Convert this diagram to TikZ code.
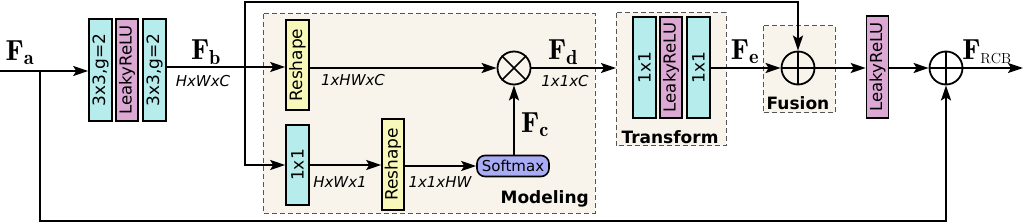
\documentclass[tikz,border=0pt]{standalone}
\usepackage{fontspec}
\setsansfont{DejaVu Sans}
\usetikzlibrary{arrows.meta}
\definecolor{cyanf}{RGB}{182,236,236}
\definecolor{pinkf}{RGB}{220,168,212}
\definecolor{yelf}{RGB}{248,248,186}
\definecolor{bluef}{RGB}{168,172,244}
\definecolor{beigef}{RGB}{248,244,236}
\definecolor{dashc}{RGB}{85,85,85}
\begin{document}
\begin{tikzpicture}[x=1pt,y=-1pt,
  blk/.style={draw, line width=1.6pt, inner sep=0pt, font=\sffamily\fontsize{17}{17}\selectfont},
  cbox/.style={blk, fill=cyanf, minimum width=23pt, minimum height=102pt},
  pbox/.style={blk, fill=pinkf, minimum width=22pt, minimum height=102pt, font=\sffamily\fontsize{16.5}{17}\selectfont},
  ybox/.style={blk, fill=yelf, minimum width=23pt, minimum height=90pt},
  ln/.style={line width=2pt},
  arr/.style={line width=2pt, -{Stealth[length=15pt,width=10pt,inset=3pt]}},
  dbox/.style={draw=dashc, dash pattern=on 5pt off 3pt, fill=beigef, line width=1pt},
  flab/.style={inner sep=0pt, font=\fontsize{29}{32}\selectfont},
  ilab/.style={inner sep=0pt, font=\sffamily\itshape\fontsize{15}{16}\selectfont},
  blab/.style={inner sep=0pt, font=\sffamily\bfseries\fontsize{17}{18}\selectfont},
  opc/.style={draw, circle, line width=1.8pt, minimum size=33pt, inner sep=0pt}
]
\useasboundingbox (0,0) rectangle (1024,224);

% dashed group backgrounds
\draw[dbox] (263,14) rectangle (595,213);
\draw[dbox] (616,13) rectangle (726,146);
\draw[dbox] (763,26) rectangle (835,113);

% first stage
\node[cbox] (c1) at (100.5,70) {\rotatebox{90}{3x3,g=2}};
\node[pbox] (l1) at (127,70) {\rotatebox{90}{LeakyReLU}};
\node[cbox] (c2) at (154.5,70) {\rotatebox{90}{3x3,g=2}};

% modeling
\node[ybox] (r1) at (297.5,65) {\rotatebox{90}{Reshape}};
\node[cbox, minimum height=80pt] (k1) at (297.5,165) {\rotatebox{90}{1x1}};
\node[ybox, minimum width=22pt, minimum height=91pt] (r2) at (393,164.5) {\rotatebox{90}{Reshape}};
\node[blk, fill=bluef, rounded corners=8pt, minimum width=72pt, minimum height=21pt, font=\sffamily\fontsize{15}{16}\selectfont] (sm) at (513,166) {Softmax};
\node[opc] (m) at (514,68) {};
\draw[line width=1.5pt] (m.north west) -- (m.south east) (m.north east) -- (m.south west);

% transform
\node[cbox, minimum height=101pt] (t1) at (644.5,67.5) {\rotatebox{90}{1x1}};
\node[pbox, minimum height=101pt] (t2) at (671,67.5) {\rotatebox{90}{LeakyReLU}};
\node[cbox, minimum height=101pt] (t3) at (698.5,67.5) {\rotatebox{90}{1x1}};

% fusion
\node[opc] (p1) at (798,68) {};
\draw[line width=1.5pt] (p1.north) -- (p1.south) (p1.west) -- (p1.east);

% output stage
\node[pbox] (l3) at (877.5,67) {\rotatebox{90}{LeakyReLU}};
\node[opc] (p2) at (946,68) {};
\draw[line width=1.5pt] (p2.north) -- (p2.south) (p2.west) -- (p2.east);

% coordinates
\coordinate (fa0) at (0,71);
\coordinate (bA) at (40,71);
\coordinate (bB) at (245,67);
\coordinate (tp) at (245,2);
\coordinate (bt) at (40,221);
\coordinate (tin) at (616,68);
\coordinate (out) at (1023,68);

% connectors
\draw[arr] (fa0) -- (fa0 -| c1.west);
\draw[ln] (c2.east |- bB) -- (bB);
\draw[arr] (bB) -- (bB -| r1.west);
\draw[arr] (bB) -- (tp) -- (tp -| p1.north) -- (p1.north);
\draw[arr] (bB) -- (bB |- k1) -- (k1.west);
\draw[arr] (r1.east |- m) -- (m.west);
\draw[arr] (k1.east) -- (k1.east -| r2.west);
\draw[arr] (r2.east |- sm) -- (sm.west);
\draw[arr] (sm.north -| m) -- (m.south);
\draw[arr] (m.east) -- (tin);
\draw[arr] (t3.east |- p1) -- (p1.west);
\draw[arr] (p1.east) -- (p1.east -| l3.west);
\draw[arr] (l3.east |- p2) -- (p2.west);
\draw[arr] (p2.east) -- (out);
\draw[arr] (bA) -- (bt) -- (bt -| p2.south) -- (p2.south);

% labels
\node[flab] (Fa) at (20,53) {$\mathbf{F}_{\mathbf{a}}$};
\node[flab] (Fb) at (206,52) {$\mathbf{F}_{\mathbf{b}}$};
\node[ilab] (hwc) at (203,81) {HxWxC};
\node[ilab] (hwc2) at (353,80) {1xHWxC};
\node[ilab] (hw1) at (340,182) {HxWx1};
\node[ilab] (hw2) at (440,182) {1x1xHW};
\node[flab] (Fc) at (535,125) {$\mathbf{F}_{\mathbf{c}}$};
\node[flab] (Fd) at (563,52) {$\mathbf{F}_{\mathbf{d}}$};
\node[ilab] (c11) at (565,81) {1x1xC};
\node[flab] (Fe) at (745,52) {$\mathbf{F}_{\mathbf{e}}$};
\node[flab] (Fr) at (987,52) {$\mathbf{F}_{\scriptscriptstyle\mathrm{RCB}}$};
\node[blab, anchor=south east] (mod) at (589,207) {Modeling};
\node[blab] (tr) at (670,137) {Transform};
\node[blab] (fu) at (798,103) {Fusion};
\end{tikzpicture}
\end{document}
